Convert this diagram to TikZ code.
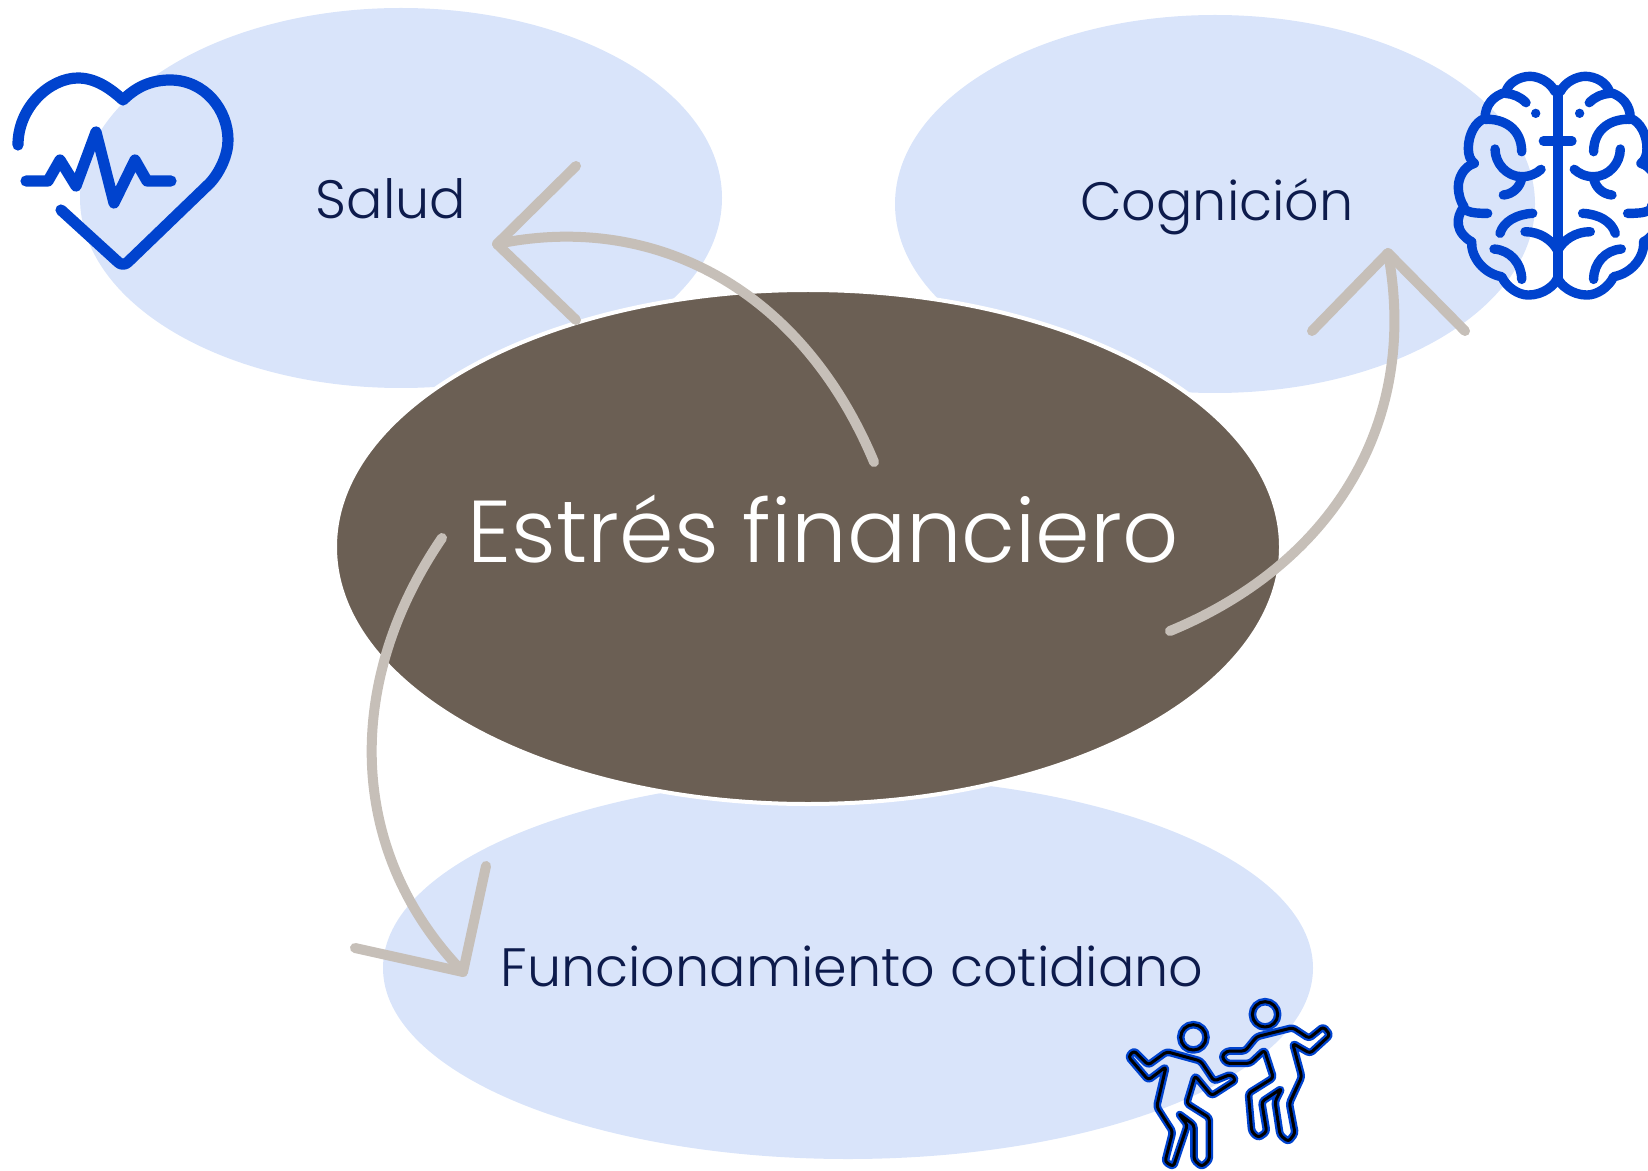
\documentclass[tikz,border=0pt]{standalone}
\usepackage{fontspec}
\setmainfont{Poppins Light}
\definecolor{blobblue}{HTML}{D9E4FA}
\definecolor{centerbrown}{HTML}{6B5F54}
\definecolor{navytext}{HTML}{0D1B4C}
\definecolor{arrowgrey}{HTML}{C6BFB8}
\definecolor{iconblue}{HTML}{0043CE}
\tikzset{
  blob/.style={ellipse,fill=blobblue,inner sep=0pt,outer sep=0pt},
  core/.style={ellipse,fill=centerbrown,draw=white,line width=2pt,inner sep=0pt,outer sep=0pt},
  smalltext/.style={anchor=base,text=navytext,font=\fontsize{27}{32}\selectfont},
  bigtext/.style={anchor=base,text=white,font=\fontsize{43.9}{50}\selectfont},
  link/.style={draw=arrowgrey,line width=5pt,line cap=round,line join=round},
  iconline/.style={draw=iconblue,line width=5.6pt,line cap=round,line join=round},
  brainline/.style={draw=iconblue,line width=4.7pt,line cap=round,line join=round},
  personglow/.style={draw=iconblue,line width=3.8pt,line join=round,rounded corners=1.5pt},
  personcore/.style={draw=black,line width=1.5pt,line join=round,rounded corners=1.5pt},
}
\usetikzlibrary{shapes.geometric}
\newcommand{\brainhalf}{%
  \draw[brainline] (345,125) .. controls (330,95) and (295,79) .. (270,79)
    .. controls (240,79) and (205,97) .. (197,127)
    .. controls (160,137) and (135,165) .. (135,205)
    .. controls (105,215) and (85,255) .. (85,295)
    .. controls (85,315) and (90,330) .. (103,340)
    .. controls (70,350) and (55,385) .. (55,410)
    .. controls (55,435) and (62,455) .. (72,470)
    .. controls (60,485) and (52,505) .. (55,525)
    .. controls (58,545) and (75,565) .. (95,575)
    .. controls (92,620) and (130,670) .. (185,680)
    .. controls (200,712) and (235,735) .. (265,735)
    .. controls (310,735) and (345,705) .. (352,685);
  \draw[brainline] (352,120) -- (352,690);
  \draw[brainline] (310,273) -- (352,273);
  \fill[iconblue] (287,190) circle [radius=14];
  \draw[brainline] (258,158) .. controls (240,140) and (220,132) .. (197,130);
  \draw[brainline] (135,208) .. controls (190,205) and (245,235) .. (245,305);
  \draw[brainline] (165,297) .. controls (165,340) and (200,380) .. (245,380)
    .. controls (270,380) and (290,370) .. (303,358);
  \draw[brainline] (245,385) .. controls (240,410) and (220,432) .. (190,435);
  \draw[brainline] (75,480) .. controls (95,490) and (120,490) .. (143,490);
  \draw[brainline] (180,550) .. controls (190,515) and (230,492) .. (278,490);
  \draw[brainline] (255,545) .. controls (300,545) and (335,570) .. (352,600);
  \draw[brainline] (162,597) .. controls (210,600) and (245,640) .. (245,688);
}
\newcommand{\persons}[1]{%
  \draw[#1] (250,157) circle [radius=38];
  \draw[#1] (170,200) -- (272,228) -- (312,288) -- (362,268) -- (378,285) -- (305,332) -- (255,272) -- (230,355) -- (298,398) -- (298,525) -- (275,545) -- (252,525) -- (252,420) -- (205,385) -- (232,420) -- (190,545) -- (165,530) -- (188,440) -- (140,365) -- (168,245) -- (115,285) -- (55,215) -- (72,197) -- (115,240) -- cycle;
  \draw[#1] (465,88) circle [radius=38];
  \draw[#1] (440,155) -- (548,128) -- (597,160) -- (640,125) -- (660,150) -- (600,205) -- (548,175) -- (575,275) -- (538,355) -- (555,445) -- (535,470) -- (510,450) -- (495,350) -- (515,310) -- (455,350) -- (470,440) -- (445,458) -- (425,440) -- (415,325) -- (490,278) -- (463,195) -- (420,235) -- (350,235) -- (335,215) -- (350,198) -- (405,198) -- cycle;
}
\begin{document}
\begin{tikzpicture}[x=0.5pt,y=-0.5pt]
\useasboundingbox (0,0) rectangle (1648,1171);
% blobs
\node[blob,minimum width=642pt*0.5,minimum height=380pt*0.5] (salud) at (401,198) {};
\node[blob,minimum width=640pt*0.5,minimum height=378pt*0.5] (cog) at (1215,204) {};
\node[blob,minimum width=930pt*0.5,minimum height=382pt*0.5] (func) at (848,968) {};
\node[core,minimum width=946pt*0.5,minimum height=514pt*0.5] (stress) at (808,547) {};
% labels
\node[smalltext] (tsalud) at (391,219) {Salud};
\node[smalltext] (tcog) at (1217,221) {Cognición};
\node[smalltext] (tfunc) at (852,986) {Funcionamiento cotidiano};
\node[bigtext] (tstress) at (823,562) {Estrés financiero};
% connectors
\coordinate (a1s) at (874,462); \coordinate (a1e) at (497,244);
\coordinate (a1u) at (576,166); \coordinate (a1d) at (576,320);
\coordinate (a2s) at (1170,631); \coordinate (a2e) at (1388,253);
\coordinate (a2l) at (1312,331); \coordinate (a2r) at (1465,331);
\coordinate (a3s) at (442,538); \coordinate (a3e) at (463,972);
\coordinate (a3l) at (355,948); \coordinate (a3r) at (486,866);
\path[link] (a1s) .. controls (800,285) and (650,212) .. (a1e);
\path[link] (a1u) -- (a1e) -- (a1d);
\path[link] (a2s) .. controls (1330,565) and (1420,425) .. (a2e);
\path[link] (a2l) -- (a2e) -- (a2r);
\path[link] (a3s) .. controls (345,680) and (345,850) .. (a3e);
\path[link] (a3l) -- (a3e) -- (a3r);
% heart
\draw[iconline] (18,145) .. controls (18,107) and (50,78) .. (78,78)
  .. controls (95,78) and (110,88) .. (123,100)
  .. controls (135,88) and (150,80) .. (170,80)
  .. controls (205,80) and (228,110) .. (228,140)
  .. controls (228,155) and (220,172) .. (210,183)
  -- (128,262) .. controls (125,265) and (121,265) .. (118,262) -- (61,210);
\draw[iconline] (26,181) -- (48,181) -- (60,160) -- (76,186) -- (96,132) -- (114,203) -- (135,160) -- (147,181) -- (171,181);
% brain
\begin{scope}[shift={(1440,50)},x=0.1667pt,y=-0.1667pt]
\brainhalf
\end{scope}
\begin{scope}[shift={(1675.3,50)},x=-0.1667pt,y=-0.1667pt]
\brainhalf
\end{scope}
% people
\begin{scope}[shift={(1110,985)},x=0.1667pt,y=-0.1667pt]
\persons{personglow}
\persons{personcore}
\end{scope}
\end{tikzpicture}
\end{document}
